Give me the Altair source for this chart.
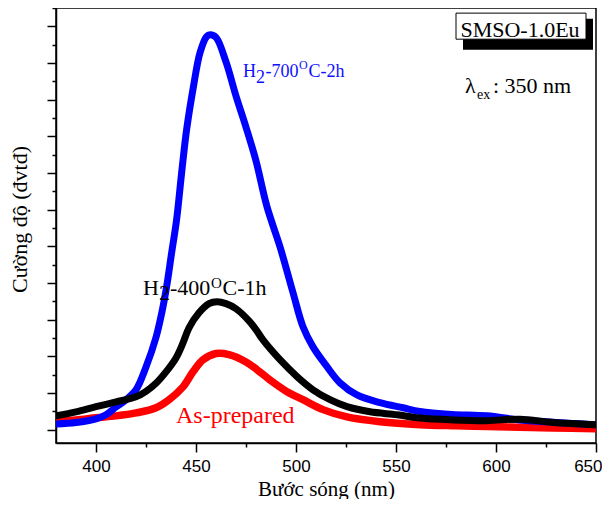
import altair as alt
import pandas as pd

# ---------------- data ----------------
wl_as = [380, 390, 400, 410, 420, 430, 436.5, 443.5, 448.5, 453.5, 460, 466.5, 475, 480.5,
         487, 495.5, 503.5, 513.5, 525.5, 542, 562, 580, 595.5, 612, 628.5, 650]
int_as = [0.25, 0.27, 0.33, 0.38, 0.46, 0.60, 0.82, 1.17, 1.58, 1.91, 2.08, 2.05, 1.85, 1.64,
          1.36, 1.04, 0.82, 0.55, 0.35, 0.22, 0.14, 0.11, 0.09, 0.07, 0.05, 0.03]

wl_400 = [380, 390, 400, 410, 420, 425, 430, 435, 440, 443.5, 446.5, 451.5, 456.5, 460.5, 465,
          470, 476.5, 480, 483.5, 492, 500.5, 508.5, 517, 525.5, 537, 550.5, 562, 578.7, 595.5,
          612, 628.5, 650]
int_400 = [0.38, 0.49, 0.63, 0.76, 0.90, 1.05, 1.27, 1.58, 1.96, 2.37, 2.78, 3.19, 3.44, 3.49, 3.44,
           3.30, 2.97, 2.73, 2.45, 1.91, 1.45, 1.09, 0.82, 0.63, 0.49, 0.41, 0.32, 0.27, 0.25,
           0.29, 0.20, 0.14]

wl_700 = [380, 390, 400, 405, 410, 415, 420, 425, 430, 433, 435.3, 437.8, 440.3, 442.8, 445.3,
          448.7, 452, 455.3, 457, 460, 465, 470, 475, 480, 485.5, 492, 498.5, 503.5, 508.5,
          515.5, 522, 530.5, 542, 553.5, 562, 578, 595.5, 612, 630, 650]
int_700 = [0.16, 0.20, 0.30, 0.41, 0.62, 0.82, 1.09, 1.71, 2.52, 3.22, 3.90, 4.82, 5.73, 7.00, 8.18,
           9.35, 10.28, 10.72, 10.77, 10.70, 10.03, 9.10, 8.25, 7.33, 6.08, 4.99, 3.74, 2.81, 2.26,
           1.72, 1.28, 0.95, 0.74, 0.60, 0.50, 0.42, 0.38, 0.27, 0.20, 0.14]

x_tick_values = [400, 425, 450, 475, 500, 525, 550, 575, 600, 625, 650]
y_tick_values = [i * 0.5 for i in range(24)]

X_DOMAIN = [380, 650]
Y_DOMAIN = [-0.36, 11.5]

SERIF = "Liberation Serif"
SANS = "Liberation Sans"

# ---------------- shared encodings ----------------
x_axis = alt.Axis(
    values=x_tick_values,
    labelExpr="datum.value % 50 === 0 ? datum.label : ''",
    tickSize={"condition": {"test": "datum.value % 50 === 0", "value": 9}, "value": 4},
    labelAlign={"condition": {"test": "datum.value === 650", "value": "right"}, "value": "center"},
    labelOffset={"condition": {"test": "datum.value === 650", "value": 6}, "value": 0},
    labelFont=SANS, labelFontSize=17, labelColor="black", labelPadding=6,
    title="Bước sóng (nm)", titleFont=SERIF, titleFontSize=21, titleFontWeight="normal",
    titleColor="black", titleBaseline="alphabetic", titleY=52,
    domainColor="black", domainWidth=1.5, tickColor="black", tickWidth=1.5,
    grid=False, labelFlush=False,
)
y_axis = alt.Axis(
    values=y_tick_values, labels=False,
    tickSize={"condition": {"test": "datum.value % 1 === 0", "value": 9}, "value": 4},
    title="Cường độ (đvtđ)", titleFont=SERIF, titleFontSize=22, titleFontWeight="normal",
    titleColor="black", titleBaseline="alphabetic", titleX=-30, titleY=211,
    domainColor="black", domainWidth=1.5, tickColor="black", tickWidth=1.5,
    grid=False,
)
x_scale = alt.Scale(domain=X_DOMAIN, nice=False, zero=False)
y_scale = alt.Scale(domain=Y_DOMAIN, nice=False, zero=False)


def X(field="x"):
    return alt.X(f"{field}:Q", scale=x_scale, axis=x_axis)


def Y(field="y"):
    return alt.Y(f"{field}:Q", scale=y_scale, axis=y_axis)


def line(wl, vals, color, width):
    d = pd.DataFrame({"x": wl, "y": vals})
    return alt.Chart(d).mark_line(
        color=color, strokeWidth=width, interpolate="catmull-rom", clip=True,
        strokeJoin="round", strokeCap="round"
    ).encode(x=X(), y=Y())


def text_piece(x, y, txt, size, color, dx=0, dy=0, align="left", font=SERIF):
    d = pd.DataFrame({"x": [x], "y": [y], "t": [txt]})
    return alt.Chart(d).mark_text(
        align=align, baseline="alphabetic", font=font, fontSize=size,
        color=color, dx=dx, dy=dy
    ).encode(x=X(), y=Y(), text="t:N")


def rect(x1, x2, y1, y2, fill, stroke=None):
    d = pd.DataFrame({"x": [x1], "x2": [x2], "y": [y1], "y2": [y2]})
    kw = dict(fill=fill)
    if stroke is not None:
        kw.update(stroke=stroke, strokeWidth=1)
    return alt.Chart(d).mark_rect(**kw).encode(
        x=X(), x2="x2:Q", y=Y(), y2="y2:Q")


layers = [
    line(wl_as, int_as, "#ff0000", 7.5),
    line(wl_700, int_700, "#0000ff", 7),
    line(wl_400, int_400, "#000000", 7),
]

# series labels
BLUE = "#1010ff"
blue_parts = [("H", 18, 0, 0), ("2", 18, 13, 6), ("-700", 18, 22.5, 0),
              ("O", 12, 56, -8), ("C-2h", 18, 65.5, 0)]
for t, s, dx, dy in blue_parts:
    layers.append(text_piece(473.5, 9.63, t, s, BLUE, dx, dy))

black_parts = [("H", 22, 0, 0), ("2", 22, 16, 5), ("-400", 22, 27, 0),
               ("O", 15, 68, -7), ("C-1h", 22, 79.5, 0)]
for t, s, dx, dy in black_parts:
    layers.append(text_piece(423.5, 3.68, t, s, "black", dx, dy))

layers.append(text_piece(440, 0.18, "As-prepared", 24, "#ff0000"))

# sample box with shadow
layers.append(rect(583.5, 648.5, 10.36, 11.21, "black"))
layers.append(rect(580, 645, 10.65, 11.36, "white", "black"))
layers.append(text_piece(612, 10.70, "SMSO-1.0Eu", 22, "black", align="center"))

# excitation wavelength
layers.append(text_piece(584.5, 9.18, "λ", 22, "black"))
layers.append(text_piece(590.5, 9.18, "ex", 14, "black", 0, 6))
layers.append(text_piece(598.5, 9.18, ": 350 nm", 22, "black"))

chart = alt.layer(*layers).properties(
    width=540, height=435,
    autosize=alt.AutoSizeParams(type="none"),
    padding={"left": 48, "top": 0, "right": 6, "bottom": 56},
).configure_view(stroke="black", strokeWidth=1.5)

chart.save("out.html", embed_options={"renderer": "svg", "actions": False})
